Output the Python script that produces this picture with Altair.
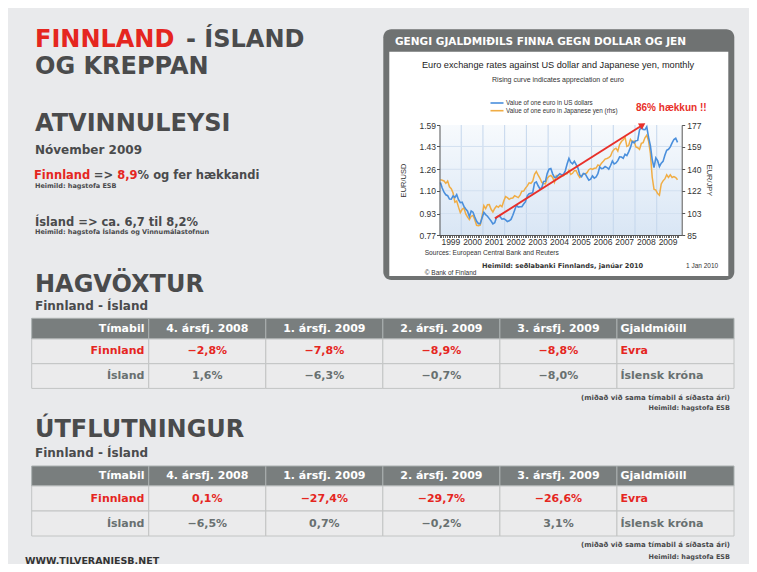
import altair as alt
import pandas as pd

# ---------------- data ----------------
# Monthly EUR/USD, Jan 1999 .. Dec 2009
usd = [
    1.161, 1.120, 1.089, 1.070, 1.063, 1.038, 1.037, 1.061, 1.050, 1.071, 1.033, 1.011,
    1.014, 0.983, 0.964, 0.947, 0.906, 0.949, 0.940, 0.904, 0.872, 0.855, 0.855, 0.897,
    0.938, 0.922, 0.910, 0.892, 0.874, 0.853, 0.861, 0.901, 0.911, 0.906, 0.888, 0.892,
    0.883, 0.870, 0.876, 0.886, 0.917, 0.955, 0.992, 0.978, 0.981, 0.981, 1.001, 1.018,
    1.062, 1.077, 1.081, 1.085, 1.158, 1.166, 1.137, 1.114, 1.122, 1.169, 1.170, 1.229,
    1.261, 1.265, 1.226, 1.199, 1.201, 1.214, 1.227, 1.218, 1.222, 1.249, 1.299, 1.341,
    1.312, 1.301, 1.320, 1.294, 1.269, 1.217, 1.204, 1.229, 1.226, 1.202, 1.179, 1.186,
    1.210, 1.194, 1.202, 1.227, 1.277, 1.265, 1.268, 1.281, 1.273, 1.261, 1.288, 1.321,
    1.300, 1.307, 1.324, 1.352, 1.351, 1.342, 1.372, 1.362, 1.390, 1.423, 1.468, 1.457,
    1.472, 1.475, 1.553, 1.575, 1.556, 1.555, 1.577, 1.498, 1.437, 1.332, 1.273, 1.345,
    1.324, 1.279, 1.305, 1.319, 1.365, 1.402, 1.409, 1.427, 1.456, 1.482, 1.491, 1.461,
]
# Monthly EUR/JPY, Jan 1999 .. Dec 2009
jpy = [
    131.3, 130.8, 130.2, 128.2, 130.1, 125.3, 123.7, 120.1, 112.4, 113.5, 108.3, 103.7,
    106.5, 107.6, 102.6, 99.9, 97.8, 100.7, 101.4, 97.8, 93.1, 92.8, 93.3, 100.6,
    109.6, 107.1, 110.3, 110.4, 106.5, 104.3, 107.2, 109.3, 108.2, 109.9, 108.7, 113.4,
    117.1, 116.2, 114.8, 115.8, 115.9, 117.8, 117.1, 116.3, 118.4, 121.6, 121.7, 124.2,
    126.1, 128.6, 128.2, 130.1, 135.8, 138.1, 135.0, 132.4, 128.9, 128.1, 127.8, 132.4,
    134.1, 134.8, 133.1, 129.1, 134.5, 132.9, 134.1, 134.5, 134.5, 136.0, 136.1, 139.1,
    135.6, 136.6, 138.8, 138.8, 135.4, 133.1, 134.8, 136.0, 136.1, 137.1, 139.6, 140.6,
    139.8, 140.8, 141.0, 143.6, 142.7, 145.1, 146.7, 148.5, 149.0, 149.7, 151.1, 154.8,
    156.6, 157.6, 155.2, 160.7, 163.2, 164.6, 166.8, 159.1, 159.8, 165.0, 162.9, 163.6,
    158.7, 158.0, 156.6, 161.6, 162.3, 166.3, 168.5, 163.6, 153.2, 133.5, 123.3, 122.5,
    119.7, 118.3, 127.7, 130.3, 131.9, 135.4, 133.1, 135.3, 133.1, 133.9, 133.0, 131.2,
]
first_year = 1999
year_labels = list(range(1999, 2010))
grid_years = list(range(2000, 2010))
usd_ticks = [0.77, 0.93, 1.10, 1.26, 1.43, 1.59]
jpy_ticks = [85, 103, 122, 140, 159, 177]
arrow_x = [2001.55, 2008.35]
arrow_y = [0.894, 1.59]

quarters = ["4. ársfj. 2008", "1. ársfj. 2009", "2. ársfj. 2009", "3. ársfj. 2009"]
countries = ["Finnland", "Ísland"]
currencies = ["Evra", "Íslensk króna"]
gdp_fin = ["−2,8%", "−7,8%", "−8,9%", "−8,8%"]
gdp_isl = ["1,6%", "−6,3%", "−0,7%", "−8,0%"]
exp_fin = ["0,1%", "−27,4%", "−29,7%", "−26,6%"]
exp_isl = ["−6,5%", "0,7%", "−0,2%", "3,1%"]

# ---------------- styling / layout ----------------
W, H = 741, 556
BG = "#e9eaec"
DARK = "#4a4b4c"
RED = "#e5261f"
TGRAY = "#687070"
HDR = "#797e7e"
FRAME = "#6f7272"
SLIDE = "DejaVu Sans"
INSET = "Liberation Sans"


def px(v):
    return v - 8


def py(v):
    return v - 8


ONE = pd.DataFrame({"k": [0]})


def txt(s, x, y, size, color=DARK, font=SLIDE, weight="bold", align="left",
        baseline="alphabetic", angle=0):
    return alt.Chart(ONE).mark_text(
        text=s, font=font, fontSize=size, fontWeight=weight, color=color,
        align=align, baseline=baseline, angle=angle
    ).encode(x=alt.value(px(x)), y=alt.value(py(y)))


def box(x0, x1, y0, y1, **kw):
    return alt.Chart(ONE).mark_rect(**kw).encode(
        x=alt.value(px(x0)), x2=alt.value(px(x1)),
        y=alt.value(py(y0)), y2=alt.value(py(y1)))


layers = []

# ---------------- inset chart ----------------
PL, PR, PT, PB = 439.5, 681.7, 125, 235
XS = alt.Scale(domain=[1999.0, 2010.15], range=[px(PL), px(PR)], nice=False, zero=False)
YL = alt.Scale(domain=[0.77, 1.59], range=[py(PB), py(PT)], nice=False, zero=False)
YR = alt.Scale(domain=[85, 177], range=[py(PB), py(PT)], nice=False, zero=False)

layers.append(box(383.3, 734.3, 29.3, 280, fill=FRAME, cornerRadius=8))
layers.append(box(389.3, 728.3, 51.7, 276, fill="#ffffff"))
layers.append(box(PL, PR, PT, PB, fill=alt.Gradient(
    gradient="linear", x1=0, x2=0, y1=0, y2=1,
    stops=[alt.GradientStop(color="#f7fafd", offset=0),
           alt.GradientStop(color="#d9e6f5", offset=1)])))

grid_v = pd.DataFrame({"yr": grid_years})
layers.append(alt.Chart(grid_v).mark_rule(color="#c4d6ec", strokeWidth=1).encode(
    x=alt.X("yr:Q", scale=XS, axis=None), y=alt.value(py(PT)), y2=alt.value(py(PB))))
grid_h = pd.DataFrame({"v": usd_ticks[1:-1]})
layers.append(alt.Chart(grid_h).mark_rule(color="#d3e0f0", strokeWidth=1).encode(
    y=alt.Y("v:Q", scale=YL, axis=None), x=alt.value(px(PL)), x2=alt.value(px(PR))))

df = pd.DataFrame({
    "t": [first_year + (i + 0.5) / 12 for i in range(len(usd))],
    "usd": usd,
    "jpy": jpy,
})
month_ticks = [first_year + i / 12 for i in range(len(usd) + 1)]

lab = dict(labelFont=INSET, labelFontSize=8.5, labelColor="#333333",
           tickColor="#555555", domainColor="#555555", grid=False, zindex=1)

orange = alt.Chart(df).mark_line(color="#f0ad45", strokeWidth=1.5).encode(
    x=alt.X("t:Q", scale=XS, axis=alt.Axis(
        orient="bottom", offset=py(PB) - H, values=month_ticks, labels=False,
        tickSize=2.5, domain=False, title=None, zindex=1, tickColor="#666666",
        grid=False)),
    y=alt.Y("jpy:Q", scale=YR, axis=alt.Axis(
        orient="right", offset=px(PR) - W, values=jpy_ticks, format="d",
        tickSize=3, labelPadding=2, title="EUR/JPY", titleAngle=90,
        titleX=708.3 - PR, titleY=py(180), titleBaseline="middle",
        titleAlign="center", titleFont=INSET, titleFontSize=7.5,
        titleFontWeight="normal", titleColor="#333333", **lab)),
)
blue = alt.Chart(df).mark_line(color="#4a8fdc", strokeWidth=1.6).encode(
    x=alt.X("t:Q", scale=XS, axis=alt.Axis(
        orient="bottom", offset=py(PB) - H,
        values=[y + 0.5 for y in year_labels],
        labelExpr="'' + floor(datum.value)", ticks=False, labelPadding=2,
        labelOverlap=False, labelFlush=False, title=None, **lab)),
    y=alt.Y("usd:Q", scale=YL, axis=alt.Axis(
        orient="left", offset=-px(PL), values=usd_ticks, format=".2f",
        tickSize=3, labelPadding=1, title="EUR/USD", titleAngle=270,
        titleX=403.3 - PL, titleY=py(180), titleBaseline="middle",
        titleAlign="center", titleFont=INSET, titleFontSize=7.5,
        titleFontWeight="normal", titleColor="#333333", **lab)),
)
layers += [orange, blue]

arrow_df = pd.DataFrame({"x": [arrow_x[0]], "x2": [arrow_x[1]],
                         "y": [arrow_y[0]], "y2": [arrow_y[1]]})
layers.append(alt.Chart(arrow_df).mark_rule(color="#e8302a", strokeWidth=2).encode(
    x=alt.X("x:Q", scale=XS, axis=None), x2="x2:Q",
    y=alt.Y("y:Q", scale=YL, axis=None), y2="y2:Q"))
layers.append(alt.Chart(arrow_df).mark_point(
    shape="triangle-up", filled=True, size=55, angle=58, color="#e8302a", opacity=1
).encode(x=alt.X("x2:Q", scale=XS, axis=None), y=alt.Y("y2:Q", scale=YL, axis=None)))

# inset texts
layers += [
    txt("GENGI GJALDMIÐILS FINNA GEGN DOLLAR OG JEN", 395, 41.7, 10.5,
        color="#ffffff", baseline="middle"),
    txt("Euro exchange rates against US dollar and Japanese yen, monthly", 558, 65,
        9.2, color="#222222", font=INSET, weight="normal", align="center", baseline="middle"),
    txt("Rising curve indicates appreciation of euro", 558, 80, 7, color="#333333",
        font=INSET, weight="normal", align="center", baseline="middle"),
    txt("Value of one euro in US dollars", 506, 103, 6.3, color="#333333",
        font=INSET, weight="normal", baseline="middle"),
    txt("Value of one euro in Japanese yen (rhs)", 506, 110.7, 6.3, color="#333333",
        font=INSET, weight="normal", baseline="middle"),
    txt("86% hækkun !!", 636, 108.3, 10, color="#e8302a", font=INSET, baseline="middle"),
    txt("Sources: European Central Bank and Reuters", 424.7, 252.7, 6.6,
        color="#333333", font=INSET, weight="normal", baseline="middle"),
    txt("Heimild: seðlabanki Finnlands, janúar 2010", 482, 265.7, 6.6,
        color="#333333", baseline="middle"),
    txt("1 Jan 2010", 686, 265.7, 6.5, color="#333333", font=INSET,
        weight="normal", baseline="middle"),
    txt("© Bank of Finland", 424.7, 273, 6.5, color="#333333", font=INSET,
        weight="normal", baseline="middle"),
]
layers.append(alt.Chart(ONE).mark_rule(color="#4a8fdc", strokeWidth=1.6).encode(
    x=alt.value(px(490.5)), x2=alt.value(px(503.5)), y=alt.value(py(103))))
layers.append(alt.Chart(ONE).mark_rule(color="#f0ad45", strokeWidth=1.6).encode(
    x=alt.value(px(490.5)), x2=alt.value(px(503.5)), y=alt.value(py(110.7))))

# ---------------- slide text ----------------
HS = 24
MS = 11.5
layers += [
    txt("FINNLAND", 35, 46.7, HS, color=RED),
    txt("- ÍSLAND", 186, 46.7, HS),
    txt("OG KREPPAN", 35, 74, HS),
    txt("ATVINNULEYSI", 35, 131, HS),
    txt("Nóvember 2009", 35, 154, 12),
    txt("Finnland", 34, 179, MS, color=RED),
    txt("=>", 93.8, 179, MS),
    txt("8,9", 117.2, 179, MS, color=RED),
    txt("% og fer hækkandi", 137.6, 179, MS),
    txt("Heimild: hagstofa ESB", 35, 187.5, 6.5),
    txt("Ísland => ca. 6,7 til 8,2%", 35, 226, MS),
    txt("Heimild: hagstofa Íslands og Vinnumálastofnun", 35, 233.5, 6.5),
    txt("HAGVÖXTUR", 35, 292, HS),
    txt("Finnland - Ísland", 35, 310, 12),
    txt("(miðað við sama tímabil á síðasta ári)", 730, 400, 7, align="right"),
    txt("Heimild: hagstofa ESB", 730, 409.5, 6.5, align="right"),
    txt("ÚTFLUTNINGUR", 35, 437, HS),
    txt("Finnland - Ísland", 35, 457, 12),
    txt("(miðað við sama tímabil á síðasta ári)", 730, 546.5, 7, align="right"),
    txt("Heimild: hagstofa ESB", 730, 558.5, 6.5, align="right"),
    txt("WWW.TILVERANIESB.NET", 25, 563.5, 9.5, color="#333333"),
]

# ---------------- tables ----------------
COLS = ["Tímabil"] + quarters + ["Gjaldmiðill"]
TL, TR = 31.7, 734
HALF = (TR - TL) / len(COLS) / 2


def table(top, hdr_h, row_h, fin_vals, isl_vals):
    xs = alt.Scale(domain=COLS, range=[px(TL), px(TR)], paddingInner=0, paddingOuter=0)
    ys = alt.Scale(domain=countries, range=[py(top + hdr_h), py(top + hdr_h + 2 * row_h)],
                   paddingInner=0, paddingOuter=0)
    cs = alt.Scale(domain=countries, range=[RED, TGRAY])
    out = []
    hdr = pd.DataFrame({"col": COLS})
    out.append(alt.Chart(hdr).mark_rect(fill=HDR, stroke="#aab0b0", strokeWidth=1).encode(
        x=alt.X("col:N", scale=xs, axis=None),
        y=alt.value(py(top)), y2=alt.value(py(top + hdr_h))))
    cells = pd.DataFrame([{"col": c, "row": r} for r in countries for c in COLS])
    out.append(alt.Chart(cells).mark_rect(fill="#ebebec", stroke="#c2c4c4", strokeWidth=1).encode(
        x=alt.X("col:N", scale=xs, axis=None), y=alt.Y("row:N", scale=ys, axis=None)))
    hmid = py(top + hdr_h / 2)
    tstyle = dict(font=SLIDE, fontWeight="bold", fontSize=11, baseline="middle")
    out.append(alt.Chart(pd.DataFrame({"col": COLS[:1]})).mark_text(
        align="right", dx=HALF - 4.3, color="#ffffff", **tstyle).encode(
        x=alt.X("col:N", scale=xs, axis=None), y=alt.value(hmid), text="col:N"))
    out.append(alt.Chart(pd.DataFrame({"col": quarters})).mark_text(
        align="center", color="#ffffff", **tstyle).encode(
        x=alt.X("col:N", scale=xs, axis=None), y=alt.value(hmid), text="col:N"))
    out.append(alt.Chart(pd.DataFrame({"col": COLS[-1:]})).mark_text(
        align="left", dx=-HALF + 3.5, color="#ffffff", **tstyle).encode(
        x=alt.X("col:N", scale=xs, axis=None), y=alt.value(hmid), text="col:N"))
    vals = pd.DataFrame(
        [{"col": q, "row": countries[0], "v": v} for q, v in zip(quarters, fin_vals)] +
        [{"col": q, "row": countries[1], "v": v} for q, v in zip(quarters, isl_vals)])
    enc = dict(x=alt.X("col:N", scale=xs, axis=None), y=alt.Y("row:N", scale=ys, axis=None),
               color=alt.Color("row:N", scale=cs, legend=None))
    out.append(alt.Chart(vals).mark_text(align="center", **tstyle).encode(text="v:N", **enc))
    rl = pd.DataFrame({"col": [COLS[0]] * 2, "row": countries})
    out.append(alt.Chart(rl).mark_text(align="right", dx=HALF - 4.3, **tstyle).encode(
        text="row:N", **enc))
    cur = pd.DataFrame({"col": [COLS[-1]] * 2, "row": countries, "v": currencies})
    out.append(alt.Chart(cur).mark_text(align="left", dx=-HALF + 3.5, **tstyle).encode(
        text="v:N", **enc))
    return out


layers += table(318.3, 20.7, 24.7, gdp_fin, gdp_isl)
layers += table(466, 20, 25, exp_fin, exp_isl)

chart = alt.layer(*layers).resolve_scale(
    x="independent", y="independent", color="independent"
).properties(
    width=W, height=H, padding=0,
    autosize=alt.AutoSizeParams(type="none"), background=BG
).configure_view(strokeWidth=0)

chart.save("out.html", embed_options={"renderer": "svg", "actions": False})
